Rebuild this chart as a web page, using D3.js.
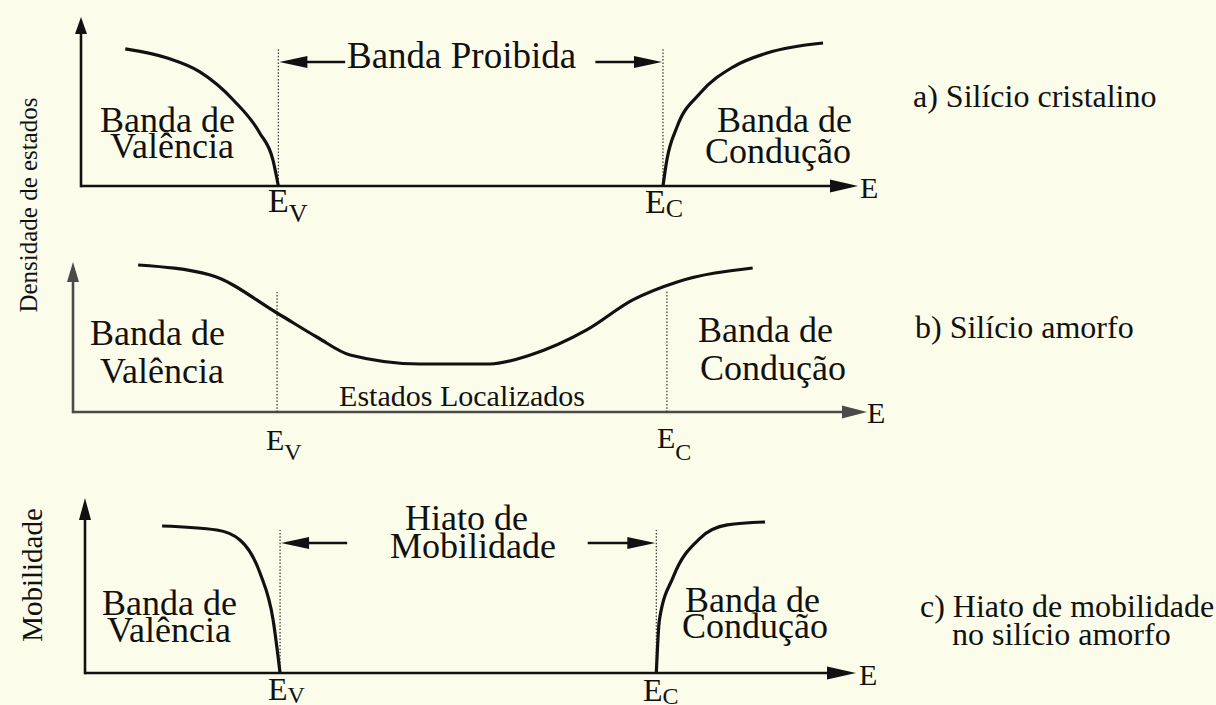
<!DOCTYPE html>
<html>
<head>
<meta charset="utf-8">
<script src="https://cdn.jsdelivr.net/npm/d3@7"></script>
<style>
  body { margin: 0; background: #fcfcea; }
  svg { display: block; }
  text { font-family: 'Liberation Serif', 'DejaVu Serif', serif; fill: #111; }
</style>
</head>
<body>
<svg width="1216" height="705"></svg>
<script>
// energy axis runs 0..100, density / mobility axis runs 0..100 (100 = arrow tip)
const edgesA = [25.4, 74.9];
const valenceA = [[5.7, 81.1], [11.1, 75.7], [15.3, 67.5], [19.6, 50.9], [23.0, 31.4], [24.7, 15.4], [25.4, 0]];
const conductionA = [[74.9, 0], [75.4, 15.4], [76.7, 34.9], [79.7, 55.0], [83.9, 70.4], [88.3, 78.7], [95.5, 84.6]];

const edgesB = [25.7, 74.8];
const densityB = [[8.2, 98.0], [17.3, 91.3], [25.7, 66.0], [30.7, 50.0], [34.9, 38.0], [43.7, 32.0],
  [52.5, 32.0], [57.6, 38.0], [64.7, 54.7], [70.5, 74.7], [76.1, 86.7], [85.6, 96.0]];

const edgesC = [25.3, 74.1];
const valenceC = [[10.0, 84.0], [17.1, 81.7], [20.1, 76.0], [22.7, 57.1], [24.4, 30.3], [25.3, 0]];
const conductionC = [[74.1, 0], [74.5, 30.3], [76.3, 54.9], [79.8, 77.1], [83.3, 84.6], [88.2, 86.3]];

const edgeNames = ['V', 'C'];

const svg = d3.select('svg');

const panels = [
  { xr: [81, 858], yr: [186, 17], axisColor: '#111', edges: edgesA, curves: [valenceA, conductionA],
    dotTop: [82, 82], gap: { y: 73.4, from: [34.0, 66.2] }, yHead: 17, xHead: 28 },
  { xr: [73, 867], yr: [412, 262], axisColor: '#4a4a4a', edges: edgesB, curves: [densityB],
    dotTop: [80, 81.3], gap: null, yHead: 20, xHead: 25 },
  { xr: [85, 856], yr: [673, 498], axisColor: '#111', edges: edgesC, curves: [valenceC, conductionC],
    dotTop: [81.7, 81.7], gap: { y: 74.3, from: [34.0, 65.2] }, yHead: 22, xHead: 29 }
];

const tri = (tx, ty, dir, len, half) => {
  // dir: 'r','l','u'
  if (dir === 'r') return `M${tx},${ty}L${tx - len},${ty - half}L${tx - len},${ty + half}Z`;
  if (dir === 'l') return `M${tx},${ty}L${tx + len},${ty - half}L${tx + len},${ty + half}Z`;
  return `M${tx},${ty}L${tx - half},${ty + len}L${tx + half},${ty + len}Z`;
};

panels.forEach(p => {
  const x = d3.scaleLinear().domain([0, 100]).range(p.xr);
  const y = d3.scaleLinear().domain([0, 100]).range(p.yr);
  const g = svg.append('g');

  // axes
  g.append('line')
    .attr('x1', x(0)).attr('y1', y(0))
    .attr('x2', x(100) - p.xHead + 2).attr('y2', y(0))
    .attr('stroke', p.axisColor).attr('stroke-width', 2.6);
  g.append('path').attr('d', tri(x(100), y(0), 'r', p.xHead, 6.5)).attr('fill', p.axisColor);
  g.append('line')
    .attr('x1', x(0)).attr('y1', y(0) + 1.3)
    .attr('x2', x(0)).attr('y2', y(100) + p.yHead - 2)
    .attr('stroke', p.axisColor).attr('stroke-width', 2.6);
  g.append('path').attr('d', tri(x(0), y(100), 'u', p.yHead, 6)).attr('fill', p.axisColor);

  // band edges
  g.selectAll('.edge').data(p.edges).enter().append('line')
    .attr('class', 'edge')
    .attr('x1', d => x(d)).attr('x2', d => x(d))
    .attr('y1', y(0)).attr('y2', (d, i) => y(p.dotTop[i]))
    .attr('stroke', '#333').attr('stroke-width', 1.2)
    .attr('stroke-dasharray', '1.5,1.8');

  // curves
  const line = d3.line().x(d => x(d[0])).y(d => y(d[1])).curve(d3.curveMonotoneX);
  g.selectAll('.curve').data(p.curves).enter().append('path')
    .attr('class', 'curve')
    .attr('d', line)
    .attr('fill', 'none').attr('stroke', '#111').attr('stroke-width', 3.2);

  // gap arrows
  if (p.gap) {
    const gy = y(p.gap.y);
    const [e0, e1] = p.edges;
    g.append('line').attr('x1', x(p.gap.from[0])).attr('x2', x(e0) + 26).attr('y1', gy).attr('y2', gy)
      .attr('stroke', '#111').attr('stroke-width', 2.4);
    g.append('path').attr('d', tri(x(e0) + 1, gy, 'l', 28, 6)).attr('fill', '#111');
    g.append('line').attr('x1', x(p.gap.from[1])).attr('x2', x(e1) - 26).attr('y1', gy).attr('y2', gy)
      .attr('stroke', '#111').attr('stroke-width', 2.4);
    g.append('path').attr('d', tri(x(e1) - 1, gy, 'r', 28, 6)).attr('fill', '#111');
  }
});

const label = (x, y, txt, size, anchor) =>
  svg.append('text').attr('x', x).attr('y', y)
    .attr('font-size', size).attr('text-anchor', anchor || 'start').text(txt);

const edgeLabel = (x, y, sub, size, subSize, dy) => {
  const t = svg.append('text').attr('x', x).attr('y', y).attr('font-size', size);
  t.append('tspan').text('E');
  t.append('tspan').attr('font-size', subSize).attr('dy', dy).text(sub);
};

// panel a
label(100, 132, 'Banda de', 36);
label(110, 158, 'Valência', 36);
label(347, 68, 'Banda Proibida', 37);
label(717, 132, 'Banda de', 36);
label(705, 163, 'Condução', 36);
label(860, 198, 'E', 30);
edgeLabel(268, 212, edgeNames[0], 34, 26, 10);
edgeLabel(645, 213, edgeNames[1], 34, 26, 4);
label(913, 107, 'a) Silício cristalino', 32);

// panel b
label(90, 345, 'Banda de', 36);
label(100, 383, 'Valência', 36);
label(462, 406, 'Estados Localizados', 30, 'middle');
label(698, 342, 'Banda de', 36);
label(700, 380, 'Condução', 36);
label(867, 423, 'E', 30);
edgeLabel(266, 450, edgeNames[0], 30, 24, 10);
edgeLabel(657, 448, edgeNames[1], 30, 24, 12);
label(915, 338, 'b) Silício amorfo', 32);

// panel c
label(405, 530, 'Hiato de', 36);
label(390, 558, 'Mobilidade', 36);
label(102, 615, 'Banda de', 36);
label(107, 642, 'Valência', 36);
label(685, 612, 'Banda de', 36);
label(682, 638, 'Condução', 36);
label(859, 685, 'E', 30);
edgeLabel(268, 700, edgeNames[0], 32, 24, 3);
edgeLabel(643, 701, edgeNames[1], 32, 24, 3);
label(920, 617, 'c) Hiato de mobilidade', 32);
label(952, 645, 'no silício amorfo', 32);

// vertical axis titles
svg.append('text').attr('transform', 'translate(37,205) rotate(-90)')
  .attr('font-size', 25).attr('text-anchor', 'middle').text('Densidade de estados');
svg.append('text').attr('transform', 'translate(42,575) rotate(-90)')
  .attr('font-size', 29).attr('text-anchor', 'middle').text('Mobilidade');
</script>
</body>
</html>
